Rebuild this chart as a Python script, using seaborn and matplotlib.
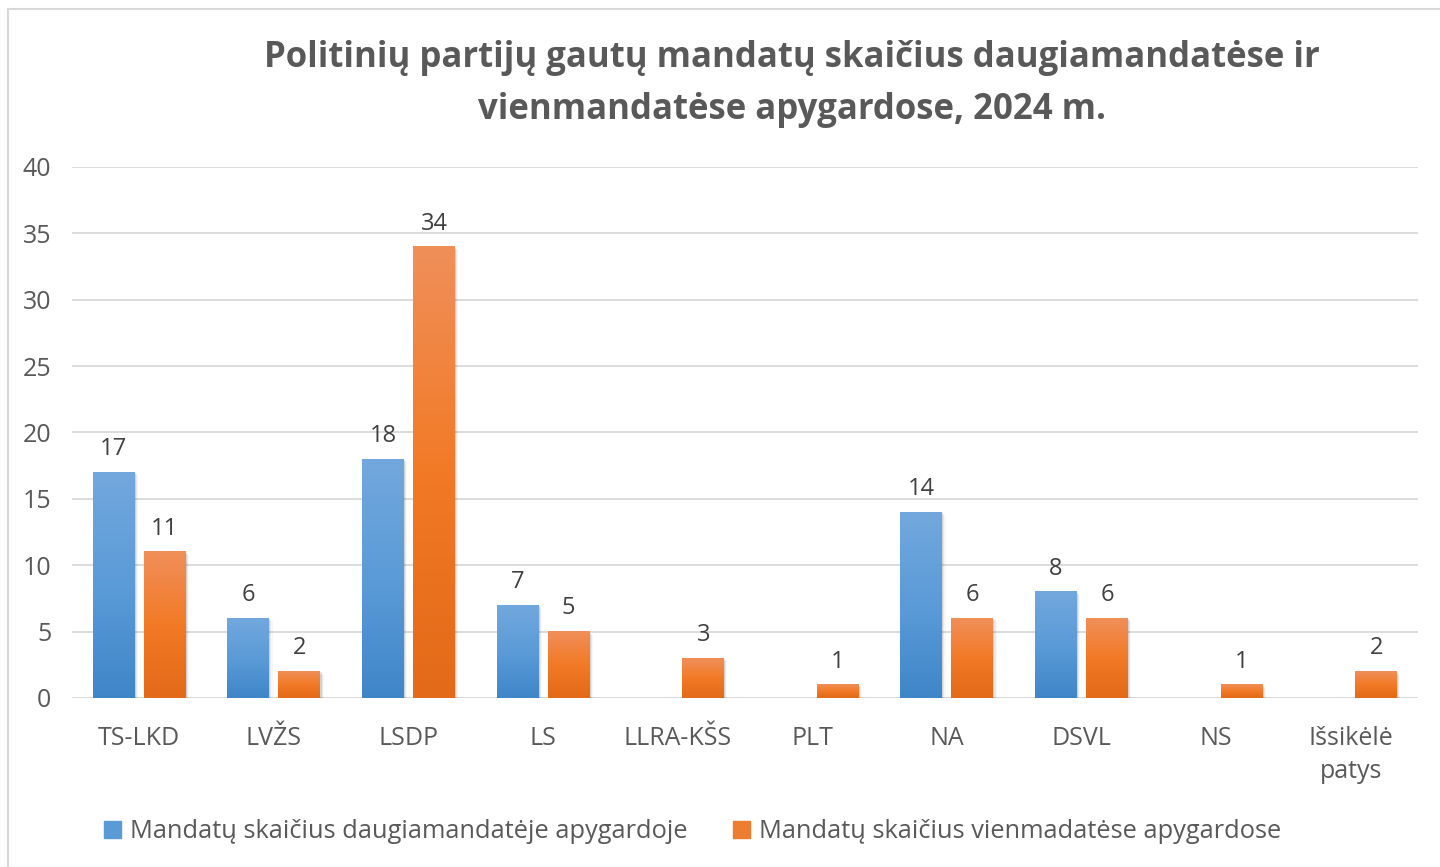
import matplotlib
matplotlib.use("Agg")
import matplotlib.pyplot as plt
from matplotlib.colors import LinearSegmentedColormap
from matplotlib.lines import Line2D
import seaborn as sns
import numpy as np
import pandas as pd

parties = ["TS-LKD", "LVŽS", "LSDP", "LS", "LLRA-KŠS", "PLT", "NA", "DSVL", "NS", "Išsikėlė\npatys"]
multi = [17, 6, 18, 7, np.nan, np.nan, 14, 8, np.nan, np.nan]
single = [11, 2, 34, 5, 3, 1, 6, 6, 1, 2]
series = ["Mandatų skaičius daugiamandatėje apygardoje",
          "Mandatų skaičius vienmadatėse apygardose"]
title = "Politinių partijų gautų mandatų skaičius daugiamandatėse ir\nvienmandatėse apygardose, 2024 m."

df = pd.DataFrame({
    "party": parties * 2,
    "series": [series[0]] * len(parties) + [series[1]] * len(parties),
    "value": multi + single,
})

sns.set_style("white")
plt.rcParams["font.family"] = ["Open Sans", "DejaVu Sans"]

fig = plt.figure(figsize=(14.4, 8.67), dpi=100)
ax = fig.add_axes([0.05, 0.195, 0.9347, 0.6124])

blue, orange = "#5B9BD5", "#ED7D31"
palette = {series[0]: blue, series[1]: orange}
sns.barplot(data=df, x="party", y="value", hue="series", hue_order=series,
            order=parties, palette=palette, saturation=1, width=0.76, gap=0.18,
            ax=ax, legend=False, errorbar=None)

ax.set_yticks(range(0, 41, 5))
ax.yaxis.grid(True, color="#d9d9d9", lw=1.3)
ax.set_axisbelow(True)
for s in ax.spines.values():
    s.set_visible(False)
ax.axhline(0, color="#d9d9d9", lw=1.8, zorder=1)
ax.tick_params(axis="both", length=0, labelsize=18, labelcolor="#595959")
ax.tick_params(axis="x", pad=20)
ax.tick_params(axis="y", pad=15)
ax.set_xlabel("")
ax.set_ylabel("")
for lab in ax.get_xticklabels():
    lab.set_linespacing(1.45)

grads = {
    blue: LinearSegmentedColormap.from_list("b", ["#3f86c8", "#5b9bd8", "#72a8dd"]),
    orange: LinearSegmentedColormap.from_list("o", ["#e26a18", "#f27a26", "#f08f5a"]),
}
grad = np.linspace(0, 1, 256).reshape(-1, 1)
for p in list(ax.patches):
    h = p.get_height()
    if not np.isfinite(h) or h <= 0:
        continue
    x0, w = p.get_x(), p.get_width()
    fc = matplotlib.colors.to_hex(p.get_facecolor()).upper()
    cmap = grads[blue] if fc == blue else grads[orange]
    # soft shadow
    for i, a in enumerate([0.10, 0.06, 0.03]):
        ax.add_patch(plt.Rectangle((x0 + 0.008 * (i + 1), -0.08 * (i + 1)), w, h,
                                   color="black", alpha=a, lw=0, zorder=2))
    ax.imshow(grad, extent=(x0, x0 + w, 0, h), origin="lower", cmap=cmap,
              aspect="auto", zorder=3, interpolation="bicubic")
    p.set_alpha(0)
    ax.annotate(f"{int(h)}", (x0 + w / 2, h), xytext=(0, 8), textcoords="offset points",
                ha="center", va="bottom", fontsize=17, color="#404040", zorder=4)

ax.set_ylim(0, 40)
ax.set_xlim(-0.5, len(parties) - 0.5)

fig.text(0.55, 0.903, title, ha="center", va="center", fontsize=25,
         fontweight="bold", color="#595959", linespacing=1.6)

handles = [plt.Rectangle((0, 0), 1, 1, color=c) for c in [blue, orange]]
fig.legend(handles, series, loc="center", bbox_to_anchor=(0.481, 0.041), ncol=2,
           frameon=False, fontsize=18.3, handlelength=0.65, handleheight=0.65,
           handletextpad=0.35, columnspacing=1.8, labelcolor="#595959")

fig.add_artist(Line2D([8 / 1440, 8 / 1440], [0, 1 - 9 / 867], transform=fig.transFigure,
                      color="#d9d9d9", lw=1.5))
fig.add_artist(Line2D([8 / 1440, 1], [1 - 9 / 867, 1 - 9 / 867], transform=fig.transFigure,
                      color="#d9d9d9", lw=1.5))

fig.savefig("out.png", dpi=100)
